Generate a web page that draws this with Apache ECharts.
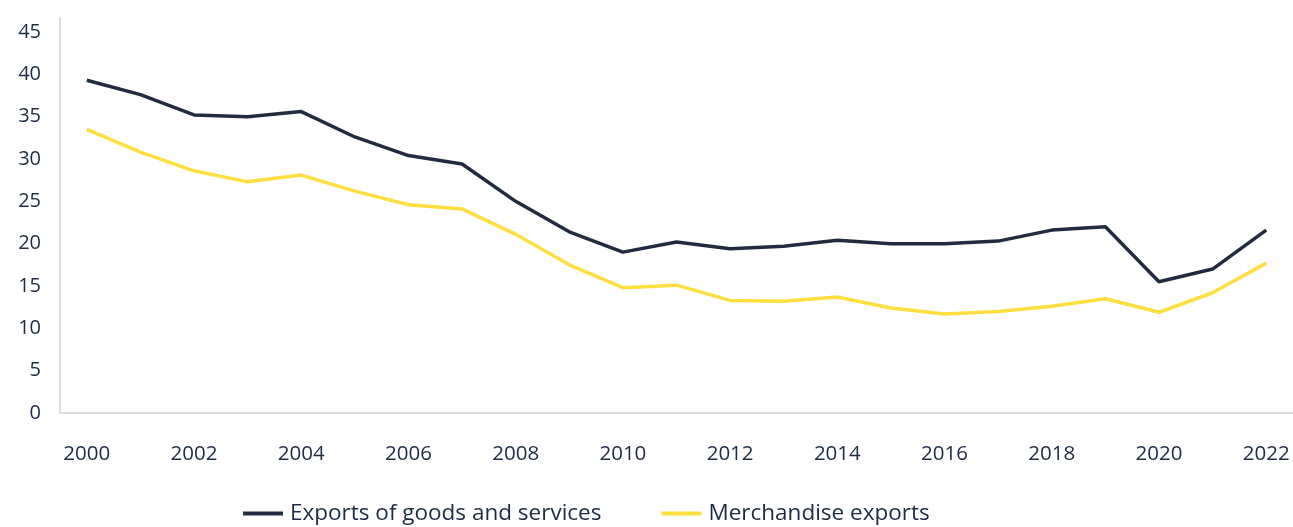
<!DOCTYPE html>
<html><head><meta charset="utf-8">
<script src="https://cdn.jsdelivr.net/npm/echarts@6/dist/echarts.min.js"></script>
<style>html,body{margin:0;padding:0;background:#fff}#c{width:1293px;height:527px}</style>
</head><body><div id="c"></div>
<script>
const years = ['2000','2001','2002','2003','2004','2005','2006','2007','2008','2009','2010','2011','2012','2013','2014','2015','2016','2017','2018','2019','2020','2021','2022'];
const exportsGS = [39.3,37.6,35.2,35.0,35.6,32.6,30.4,29.4,25.0,21.4,19.0,20.2,19.4,19.7,20.4,20.0,20.0,20.3,21.6,22.0,15.5,17.0,21.6];
const merchExports = [33.5,30.8,28.6,27.3,28.1,26.2,24.6,24.1,21.1,17.5,14.8,15.1,13.3,13.2,13.7,12.4,11.7,12.0,12.6,13.5,11.9,14.2,17.7];
const seriesNames = ['Exports of goods and services','Merchandise exports'];

const textColor = '#1d2b45';
const font = '"Open Sans"';
const chart = echarts.init(document.getElementById('c'));
chart.setOption({
  animation:false,
  grid:{left:60, right:-4, top:18, bottom:114},
  legend:{
    bottom:-3, left:238, itemWidth:40, itemHeight:4, itemGap:60,
    icon:'rect',
    textStyle:{color:textColor, fontSize:22.5, fontFamily:font, padding:[0,0,0,2]},
    data:seriesNames
  },
  xAxis:{
    type:'category', data:years, boundaryGap:true,
    axisLine:{lineStyle:{color:'#dddddd', width:2}},
    axisTick:{show:false},
    axisLabel:{interval:1, color:textColor, fontSize:20.5, fontFamily:font, margin:31}
  },
  yAxis:{
    type:'value', min:0, max:46.65, interval:5,
    axisLine:{show:true, lineStyle:{color:'#dddddd', width:2}},
    splitLine:{show:false},
    axisLabel:{showMaxLabel:false, color:textColor, fontSize:20, fontFamily:font, margin:19}
  },
  series:[
    {name:seriesNames[0], type:'line', data:exportsGS, symbol:'none',
     lineStyle:{color:'#232b40', width:3.5}, itemStyle:{color:'#232b40'}},
    {name:seriesNames[1], type:'line', data:merchExports, symbol:'none',
     lineStyle:{color:'#ffdf40', width:3.5}, itemStyle:{color:'#ffdf40'}}
  ]
});
</script></body></html>
